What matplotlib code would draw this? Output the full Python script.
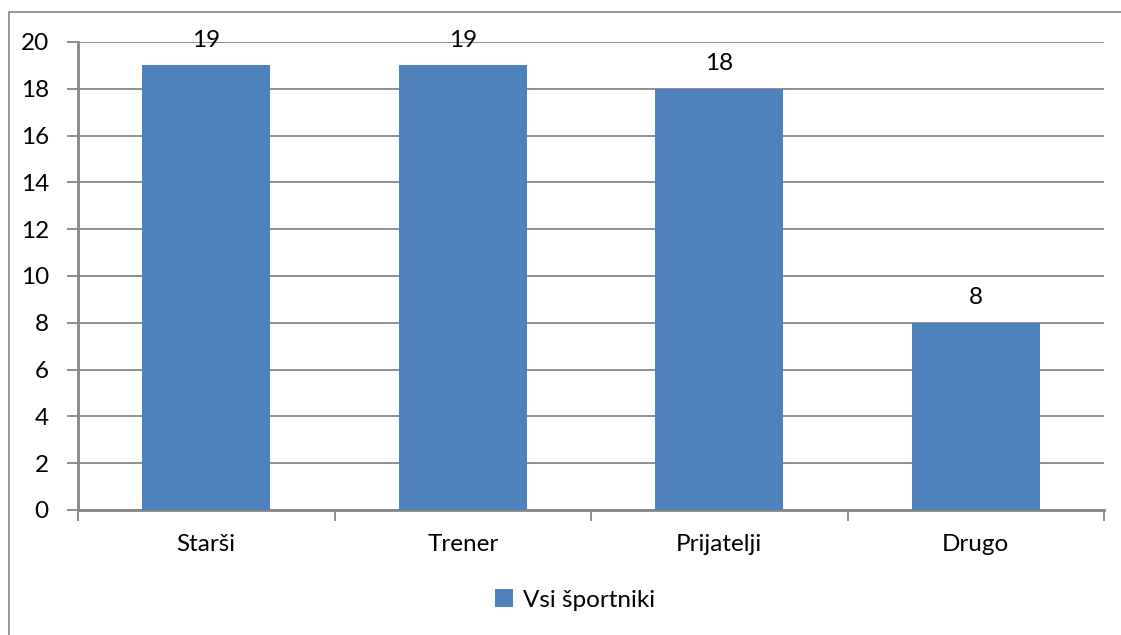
import matplotlib.pyplot as plt
from matplotlib.patches import Rectangle

categories = ['Starši', 'Trener', 'Prijatelji', 'Drugo']
values = [19, 19, 18, 8]
series_name = 'Vsi športniki'
yticks = [0, 2, 4, 6, 8, 10, 12, 14, 16, 18, 20]

plt.rcParams['font.family'] = ['Lato', 'DejaVu Sans']
FS = 17.5

W, H = 1121, 635
fig = plt.figure(figsize=(W / 100, H / 100), dpi=100)

# outer chart border (only top/left visible in the crop)
fig.patches.append(Rectangle((9 / W, -0.1), 1.2, 1 - 12 / H + 0.1,
                             transform=fig.transFigure, fill=False,
                             edgecolor='#868686', linewidth=1.2))

ax = fig.add_axes([78 / W, 1 - 510 / H, (1104 - 78) / W, (510 - 42) / H])

bar_color = '#4F81BD'
grid_color = '#868686'
x = range(len(categories))
bars = ax.bar(x, values, width=0.5, color=bar_color, zorder=3, label=series_name)

ax.set_xlim(-0.5, len(categories) - 0.5)
ax.set_ylim(0, 20)
ax.set_yticks(yticks)
ax.yaxis.grid(True, color=grid_color, linewidth=1.3, zorder=0)

for spine in ['top', 'right']:
    ax.spines[spine].set_visible(False)
for spine in ['left', 'bottom']:
    ax.spines[spine].set_color(grid_color)
    ax.spines[spine].set_linewidth(2)

ax.tick_params(axis='y', length=8, width=1.3, color=grid_color, labelsize=FS, pad=13)
# category labels centred, ticks on boundaries
ax.set_xticks([i - 0.5 for i in range(len(categories) + 1)])
ax.set_xticklabels([])
ax.tick_params(axis='x', which='major', length=8, width=1.3, color=grid_color)
ax.set_xticks(list(x), minor=True)
ax.set_xticklabels(categories, minor=True)
ax.tick_params(axis='x', which='minor', length=0, labelsize=FS, pad=17)

for b, v in zip(bars, values):
    ax.annotate(str(v), (b.get_x() + b.get_width() / 2, v), xytext=(0, 18),
                textcoords='offset points', ha='center', va='center', fontsize=FS)

handles, labels = ax.get_legend_handles_labels()
fig.legend(handles, labels, loc='center', bbox_to_anchor=(575 / W, 1 - 600 / H),
           frameon=False, fontsize=FS, handlelength=0.75, handleheight=0.75,
           handletextpad=0.4)

fig.savefig('out.png', dpi=100)
